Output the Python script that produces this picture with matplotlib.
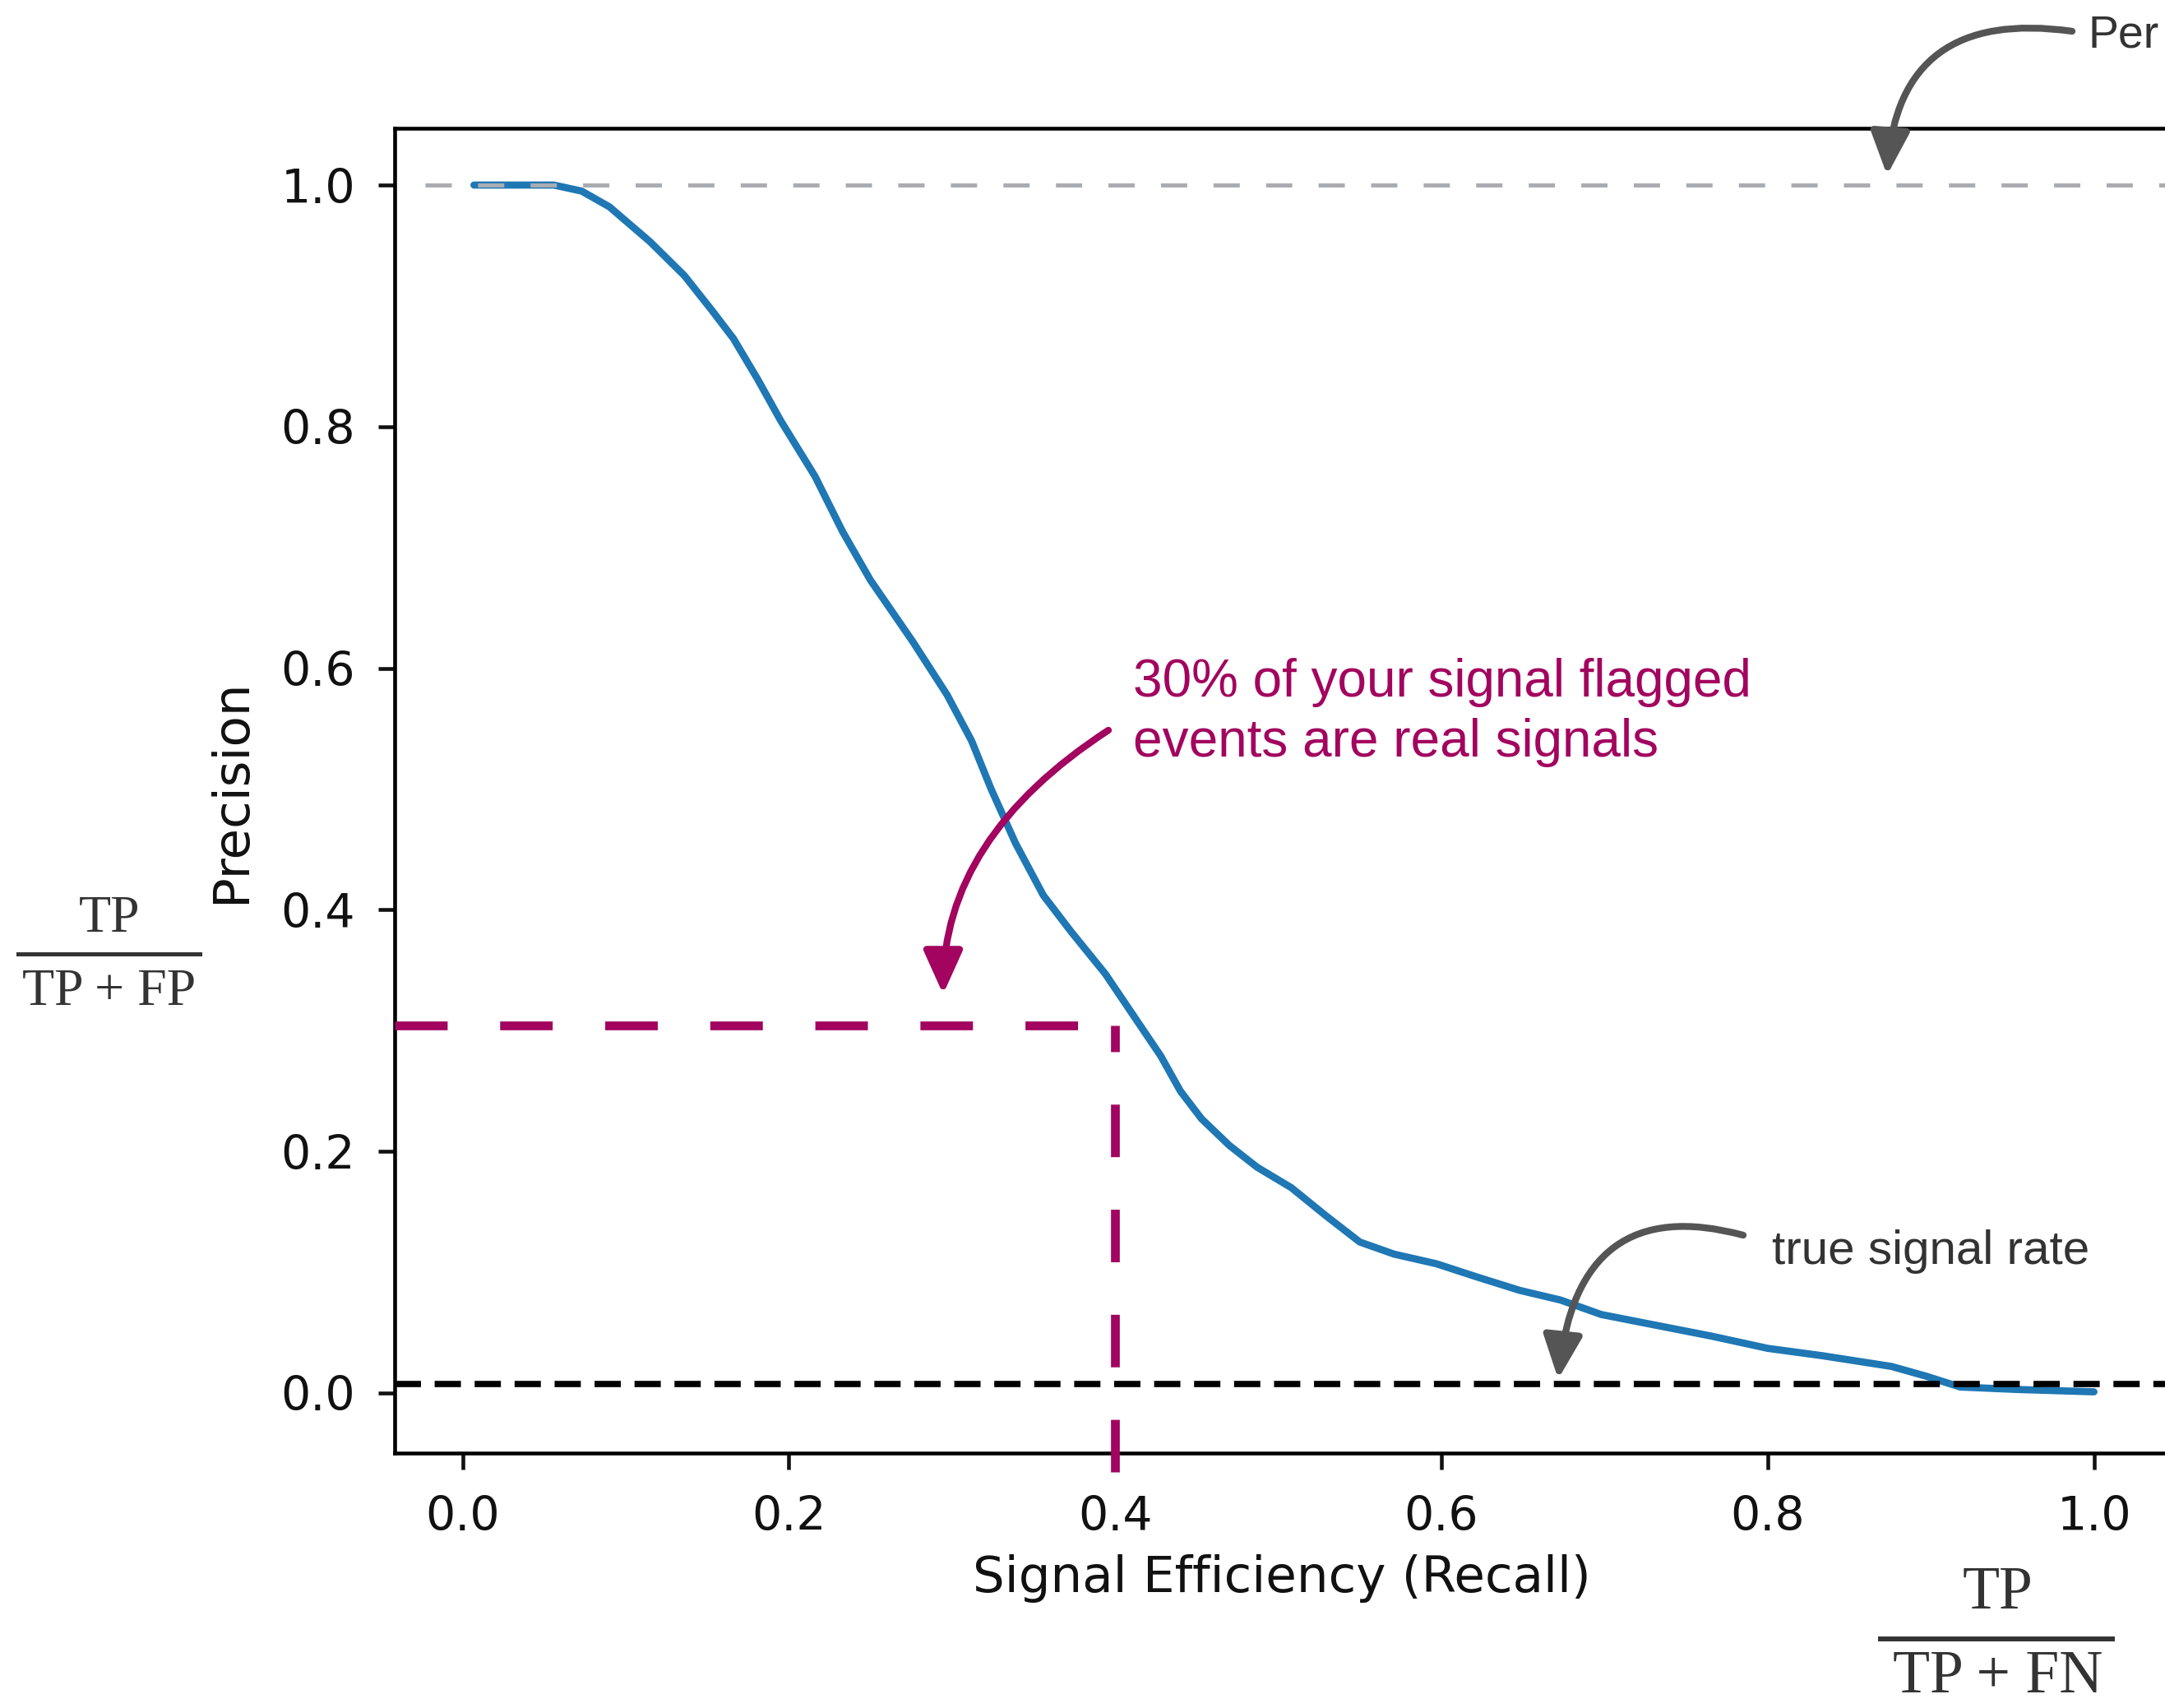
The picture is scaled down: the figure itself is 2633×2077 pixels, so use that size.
import matplotlib
matplotlib.use("Agg")
import matplotlib.pyplot as plt
from matplotlib.lines import Line2D

# ---------------- data ----------------
recall = [0.007, 0.030, 0.056, 0.073, 0.090, 0.115, 0.136, 0.153, 0.166, 0.181,
          0.195, 0.216, 0.233, 0.250, 0.276, 0.297, 0.312, 0.324, 0.339, 0.356,
          0.373, 0.394, 0.411, 0.428, 0.440, 0.453, 0.470, 0.487, 0.508, 0.529,
          0.550, 0.571, 0.597, 0.622, 0.648, 0.673, 0.698, 0.732, 0.766, 0.800,
          0.833, 0.876, 0.897, 0.918, 0.952, 1.000]
precision = [1.000, 1.000, 1.000, 0.995, 0.982, 0.953, 0.925, 0.896, 0.873, 0.839,
             0.805, 0.759, 0.713, 0.673, 0.622, 0.578, 0.540, 0.500, 0.455, 0.412,
             0.382, 0.347, 0.313, 0.279, 0.250, 0.227, 0.205, 0.187, 0.170, 0.147,
             0.125, 0.115, 0.107, 0.096, 0.085, 0.077, 0.065, 0.056, 0.047, 0.037,
             0.031, 0.022, 0.014, 0.005, 0.003, 0.001]

perfect_precision = 1.0
true_signal_rate = 0.0075
cut_recall = 0.4
cut_precision = 0.304

x_ticks = [0.0, 0.2, 0.4, 0.6, 0.8, 1.0]
y_ticks = [0.0, 0.2, 0.4, 0.6, 0.8, 1.0]
x_label = "Signal Efficiency (Recall)"
y_label = "Precision"
note_line1 = "30% of your signal flagged"
note_line2 = "events are real signals"
rate_note = "true signal rate"
perfect_note = "Per"

# ---------------- style ----------------
W, H = 2633, 2077
PURPLE = "#A2045F"
GRAYTXT = "#333333"
GRAYARR = "#555555"
plt.rcParams["lines.scale_dashes"] = False

fig = plt.figure(figsize=(W / 100, H / 100), dpi=100)
ax = fig.add_axes([480 / W, (H - 1767) / H, 2165 / W, 1611 / H])

XMIN, XMAX = -0.0416, 1.0496
YMIN, YMAX = -0.0497, 1.047
ax.set_xlim(XMIN, XMAX)
ax.set_ylim(YMIN, YMAX)

ax.plot(recall, precision, color="#1f77b4", lw=6.3, zorder=2,
        solid_joinstyle="round", solid_capstyle="round")
ax.hlines(perfect_precision, -0.023, 1.2, colors="#A9ADB2", lw=3.6,
          linestyles=[(0, (23, 23))], zorder=3)
ax.axhline(true_signal_rate, color="black", lw=5.5, ls=(0, (23, 12)), zorder=3)

# purple guide lines
ax.plot([XMIN, cut_recall], [cut_precision, cut_precision], color=PURPLE, lw=7.7,
        ls=(0, (46, 46)), clip_on=False, zorder=4)
ax.plot([cut_recall, cut_recall], [-0.0654, cut_precision], color=PURPLE, lw=7.7,
        ls=(0, (46, 46)), clip_on=False, zorder=4)

ax.set_xticks(x_ticks)
ax.set_yticks(y_ticks)
ax.set_xticklabels([f"{v:.1f}" for v in x_ticks])
ax.set_yticklabels([f"{v:.1f}" for v in y_ticks])
ax.tick_params(labelsize=41, length=14.4, width=3.3, colors="#111111")
ax.tick_params(axis="x", pad=22)
ax.tick_params(axis="y", pad=20)
for s in ax.spines.values():
    s.set_linewidth(3.3)

ax.set_xlabel(x_label, fontsize=44, color="#111111")
ax.xaxis.set_label_coords(0.4985, -0.0944)
ax.xaxis.label.set_verticalalignment("center")
ax.set_ylabel(y_label, fontsize=44, color="#111111")
ax.yaxis.set_label_coords(-0.0915, 0.5)
ax.yaxis.label.set_verticalalignment("center")


def fx(x):
    return x / W


def fy(y):
    return 1 - y / H


# annotation texts
fig.text(fx(1378), fy(847), note_line1, fontsize=46, color=PURPLE,
         family="Liberation Sans", va="baseline", ha="left")
fig.text(fx(1378), fy(920), note_line2, fontsize=46, color=PURPLE,
         family="Liberation Sans", va="baseline", ha="left")
fig.text(fx(2155), fy(1537), rate_note, fontsize=42, color=GRAYTXT,
         family="Liberation Sans", va="baseline", ha="left")
fig.text(fx(2540), fy(58), perfect_note, fontsize=40, color=GRAYTXT,
         family="Liberation Sans", va="baseline", ha="left")

# fractions
fig.text(fx(133), fy(1133), "TP", fontsize=46, color=GRAYTXT,
         family="Liberation Serif", ha="center", va="baseline")
fig.text(fx(133), fy(1222), "TP + FP", fontsize=46, color=GRAYTXT,
         family="Liberation Serif", ha="center", va="baseline")
fig.add_artist(Line2D([fx(22), fx(243)], [fy(1160), fy(1160)],
                      transform=fig.transFigure, color=GRAYTXT, lw=3.6))
fig.text(fx(2430), fy(1956), "TP", fontsize=53, color=GRAYTXT,
         family="Liberation Serif", ha="center", va="baseline")
fig.text(fx(2430), fy(2058), "TP + FN", fontsize=53, color=GRAYTXT,
         family="Liberation Serif", ha="center", va="baseline")
fig.add_artist(Line2D([fx(2287), fx(2569)], [fy(1993), fy(1993)],
                      transform=fig.transFigure, color=GRAYTXT, lw=4.3))


def curved_arrow(start, tip, angA, angB, color):
    ax.annotate("", xy=(tip[0], H - tip[1]), xycoords="figure pixels",
                xytext=(start[0], H - start[1]), textcoords="figure pixels",
                annotation_clip=False,
                arrowprops=dict(arrowstyle="-|>,head_length=1.6,head_width=0.72",
                                mutation_scale=20, lw=6, color=color,
                                shrinkA=0, shrinkB=0,
                                connectionstyle=f"angle3,angleA={angA},angleB={angB}"))


curved_arrow((1348, 888), (1147, 1209), 33, 90, PURPLE)
curved_arrow((2520, 38), (2295, 213), -8, 86, GRAYARR)
curved_arrow((2120, 1502), (1895, 1677), -15, 84, GRAYARR)

fig.savefig("out.png", dpi=100)
